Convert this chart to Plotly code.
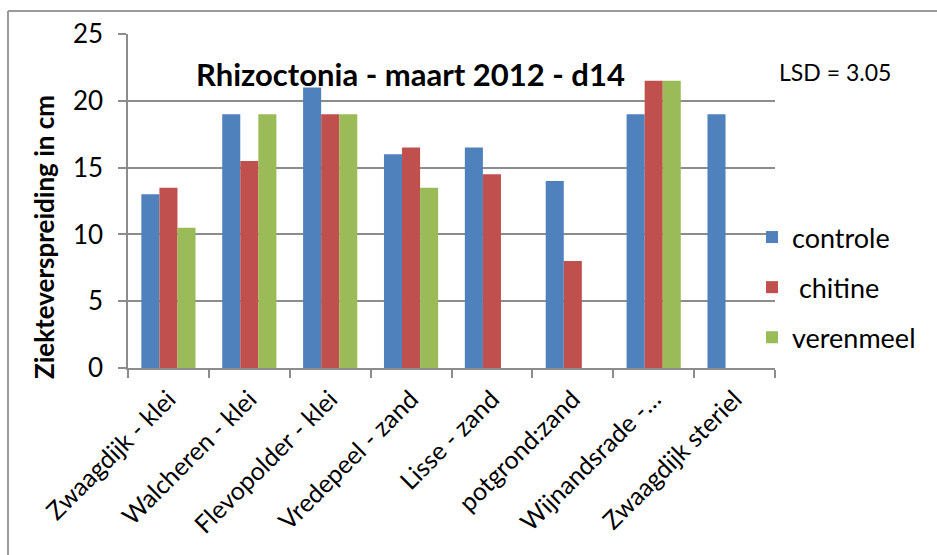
import plotly.graph_objects as go

categories = ["Zwaagdijk - klei", "Walcheren - klei", "Flevopolder - klei", "Vredepeel - zand",
              "Lisse - zand", "potgrond:zand", "Wijnandsrade -…", "Zwaagdijk steriel"]
controle = [13, 19, 21, 16, 16.5, 14, 19, 19]
chitine = [13.5, 15.5, 19, 16.5, 14.5, 8, 21.5, None]
verenmeel = [10.5, 19, 19, 13.5, None, None, 21.5, None]

W, H = 937, 555
L, R, T, B = 128, 162, 34, 187
pw, ph = W - L - R, H - T - B

def px(x):
    return (x - L) / pw

def py(y):
    return (H - B - y) / ph

FONT = "Lato, Carlito, Calibri, sans-serif"
GRID = "#8c8c8c"

fig = go.Figure()
for name, vals, col, grp in [("controle", controle, "#4f81bd", "a"),
                             (" chitine", chitine, "#c0504d", "b"),
                             ("verenmeel", verenmeel, "#9bbb59", "c")]:
    fig.add_trace(go.Bar(x=categories, y=vals, name=name, marker_color=col,
                         marker_line_width=0, legendgroup=grp))

fig.update_layout(
    width=W, height=H,
    margin=dict(l=L, r=R, t=T, b=B, pad=0),
    paper_bgcolor="white", plot_bgcolor="white",
    barmode="group", bargap=0.33, bargroupgap=0,
    font=dict(family=FONT, color="black", size=20),
    showlegend=True,
    legend=dict(x=px(752), y=py(213), xanchor="left", yanchor="top",
                font=dict(size=27, family=FONT), tracegroupgap=12,
                itemwidth=30, bgcolor="rgba(0,0,0,0)"),
    xaxis=dict(showline=True, linecolor=GRID, linewidth=1.5, ticks="outside",
               tickson="boundaries", ticklen=8, tickcolor=GRID, tickwidth=1.5,
               tickangle=-45, tickfont=dict(size=25, family=FONT), showgrid=False,
               ticklabelstandoff=5, automargin=False),
    yaxis=dict(range=[0, 25], dtick=5, showline=True, linecolor=GRID, linewidth=1.5,
               ticks="outside", ticklen=8, tickcolor=GRID, tickwidth=1.5,
               showgrid=True, gridcolor=GRID, gridwidth=1.5, zeroline=False,
               tickfont=dict(size=26, family=FONT), ticklabelstandoff=10,
               automargin=False),
    annotations=[
        dict(text="<b>Ziekteverspreiding in cm</b>", xref="paper", yref="paper",
             x=px(44), y=py(237), xanchor="center", yanchor="middle", showarrow=False,
             textangle=-90, font=dict(size=26, family=FONT)),
        dict(text="<b>Rhizoctonia - maart 2012 - d14</b>", xref="paper", yref="paper",
             x=px(410), y=py(74), xanchor="center", yanchor="middle", showarrow=False,
             font=dict(size=31, family=FONT)),
        dict(text="LSD = 3.05", xref="paper", yref="paper", x=px(777), y=py(72),
             xanchor="left", yanchor="middle", showarrow=False,
             font=dict(size=23, family=FONT)),
    ],
    shapes=[
        dict(type="line", xref="paper", yref="paper", x0=px(8), x1=px(8), y0=py(11), y1=py(560),
             line=dict(color="#9a9a9a", width=2)),
        dict(type="line", xref="paper", yref="paper", x0=px(8), x1=px(940), y0=py(11), y1=py(11),
             line=dict(color="#9a9a9a", width=2)),
    ],
)

fig.write_html("out.html")
